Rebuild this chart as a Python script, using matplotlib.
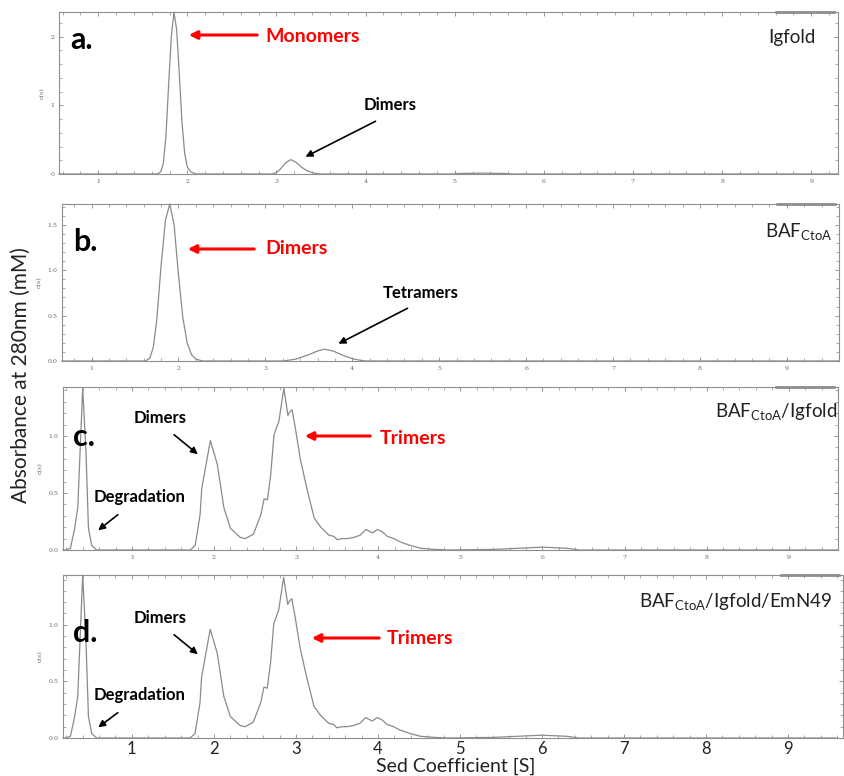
import matplotlib
matplotlib.use("Agg")
import matplotlib.pyplot as plt
from matplotlib.patches import FancyArrowPatch
from matplotlib.ticker import MultipleLocator

W, H = 845, 776

a_s = [0.56, 1.66, 1.70, 1.73, 1.76, 1.79, 1.82, 1.85, 1.88, 1.91, 1.94, 1.97, 2.00, 2.04, 2.10, 2.95,
       3.00, 3.05, 3.10, 3.16, 3.22, 3.28, 3.34, 3.40, 3.48, 4.95, 5.05, 5.30, 5.55, 5.65, 9.30]
a_c = [0.0, 0.0, 0.03, 0.15, 0.55, 1.30, 2.00, 2.36, 2.10, 1.45, 0.75, 0.30, 0.10, 0.03, 0.0, 0.0,
       0.02, 0.08, 0.16, 0.21, 0.17, 0.10, 0.05, 0.02, 0.0, 0.0, 0.008, 0.012, 0.008, 0.0, 0.0]

b_s = [0.66, 1.62, 1.67, 1.71, 1.75, 1.80, 1.85, 1.90, 1.95, 2.00, 2.05, 2.10, 2.15, 2.20, 2.28, 3.20,
       3.35, 3.50, 3.60, 3.68, 3.78, 3.90, 4.02, 4.15, 9.60]
b_c = [0.0, 0.0, 0.03, 0.15, 0.45, 1.05, 1.55, 1.73, 1.50, 0.95, 0.48, 0.20, 0.07, 0.02, 0.0, 0.0,
       0.02, 0.07, 0.11, 0.13, 0.11, 0.06, 0.02, 0.0, 0.0]

c_s = [0.16, 0.19, 0.25, 0.30, 0.34, 0.40, 0.44, 0.47, 0.51, 0.57, 1.71, 1.77, 1.83, 1.85, 1.955, 2.04,
       2.12, 2.20, 2.32, 2.38, 2.48, 2.57, 2.61, 2.65, 2.69, 2.73, 2.79, 2.85, 2.90, 2.92, 2.95, 2.99,
       3.05, 3.13, 3.22, 3.30, 3.40, 3.46, 3.50, 3.56, 3.62, 3.70, 3.78, 3.85, 3.93, 3.99, 4.05, 4.11,
       4.19, 4.27, 4.39, 4.52, 4.70, 4.85, 5.40, 5.70, 6.00, 6.30, 6.45, 9.60]
c_c = [0.0, 0.0, 0.015, 0.18, 0.37, 1.42, 0.86, 0.19, 0.04, 0.0, 0.0, 0.04, 0.31, 0.54, 0.96, 0.75,
       0.37, 0.19, 0.11, 0.10, 0.14, 0.31, 0.45, 0.44, 0.66, 1.01, 1.13, 1.42, 1.18, 1.21, 1.23, 1.07,
       0.80, 0.54, 0.28, 0.20, 0.13, 0.12, 0.09, 0.10, 0.10, 0.11, 0.13, 0.18, 0.15, 0.18, 0.16, 0.12,
       0.10, 0.07, 0.04, 0.015, 0.005, 0.0, 0.005, 0.015, 0.025, 0.015, 0.0, 0.0]

d_s = c_s
d_c = [0.0, 0.0, 0.015, 0.18, 0.37, 1.44, 0.86, 0.19, 0.04, 0.0, 0.0, 0.04, 0.31, 0.54, 0.96, 0.75,
       0.37, 0.19, 0.11, 0.10, 0.14, 0.31, 0.45, 0.44, 0.66, 1.01, 1.13, 1.42, 1.18, 1.21, 1.23, 1.07,
       0.80, 0.54, 0.28, 0.20, 0.13, 0.12, 0.09, 0.10, 0.10, 0.11, 0.13, 0.18, 0.15, 0.18, 0.16, 0.12,
       0.10, 0.07, 0.04, 0.015, 0.005, 0.0, 0.005, 0.015, 0.025, 0.015, 0.0, 0.0]

names = ["Igfold", r"BAF$_{\mathrm{CtoA}}$", r"BAF$_{\mathrm{CtoA}}$/Igfold",
         r"BAF$_{\mathrm{CtoA}}$/Igfold/EmN49"]
letters = ["a.", "b.", "c.", "d."]

# layout in picture pixels (left, right, top, bottom)
boxes = [(59, 838, 12, 174), (62, 839, 204, 361), (63, 838, 387, 550), (63, 843, 575, 738)]
xlims = [(0.56, 9.30), (0.66, 9.60), (0.16, 9.60), (0.16, 9.67)]
ylims = [(0, 2.36), (0, 1.73), (0, 1.43), (0, 1.44)]
ysteps = [(1, 0.2), (0.5, 0.1), (0.5, 0.1), (0.5, 0.1)]
name_pos = [(816, 37), (832, 232), (837, 412), (832, 602)]
letter_pos = [(70, 40), (73, 242), (73, 437), (73, 633)]

plt.rcParams["mathtext.fontset"] = "custom"
plt.rcParams["mathtext.rm"] = "Lato"
plt.rcParams["font.family"] = "Lato"

fig = plt.figure(figsize=(W / 100, H / 100), dpi=100)


def fx(x):
    return x / W


def fy(y):
    return 1 - y / H


series = [(a_s, a_c), (b_s, b_c), (c_s, c_c), (d_s, d_c)]
for i, (s, c) in enumerate(series):
    l, r, t, b = boxes[i]
    ax = fig.add_axes([fx(l), fy(b), (r - l) / W, (b - t) / H])
    ax.plot(s, c, color="#8a8a8a", lw=0.9, clip_on=False)
    ax.set_xlim(*xlims[i])
    ax.set_ylim(*ylims[i])
    ax.xaxis.set_major_locator(MultipleLocator(1))
    ax.xaxis.set_minor_locator(MultipleLocator(0.2))
    ax.yaxis.set_major_locator(MultipleLocator(ysteps[i][0]))
    ax.yaxis.set_minor_locator(MultipleLocator(ysteps[i][1]))
    ax.tick_params(which="both", direction="in", top=True, right=True, color="#888888")
    ax.tick_params(which="major", length=3, width=0.6)
    ax.tick_params(which="minor", length=2, width=0.5)
    for sp in ax.spines.values():
        sp.set_color("#8f8f8f")
        sp.set_linewidth(0.8)
    if i < 3:
        ax.tick_params(labelsize=4.5, labelcolor="#666666")
        for lab in ax.get_xticklabels() + ax.get_yticklabels():
            lab.set_family("DejaVu Serif")
    else:
        ax.tick_params(axis="x", labelsize=12, labelcolor="#222222", pad=2)
        ax.tick_params(axis="y", labelsize=4.5, labelcolor="#666666")
        for lab in ax.get_yticklabels():
            lab.set_family("DejaVu Serif")
    ax.set_ylabel("c(s)", fontsize=4.5, color="#666666", family="DejaVu Serif", labelpad=4)
    # dark frame fragment in the top right corner
    ax.plot([0.92, 0.995], [1.0, 1.0], transform=ax.transAxes, color="#777777", lw=1.8, clip_on=False)
    fig.text(fx(name_pos[i][0]), fy(name_pos[i][1]), names[i], fontsize=13.5, color="#222222",
             ha="right", va="center")
    fig.text(fx(letter_pos[i][0]), fy(letter_pos[i][1]), letters[i], fontsize=22,
             fontweight="bold", color="black", ha="left", va="center")


def note(text, tx, ty, ax0, ay0, ax1, ay1, color, size):
    fig.text(fx(tx), fy(ty), text, fontsize=size, fontweight="bold", color=color, ha="left", va="center")
    fig.add_artist(FancyArrowPatch(
        (fx(ax0), fy(ay0)), (fx(ax1), fy(ay1)), transform=fig.transFigure,
        arrowstyle="-|>", mutation_scale=10 if color == "black" else 12,
        color=color, lw=1.2 if color == "black" else 2.2))


red = "#ff0000"
note("Monomers", 265, 36, 260, 35, 186, 35, red, 14)
note("Dimers", 364, 105, 378, 120, 303, 158, "black", 12)
note("Dimers", 265, 249, 257, 249, 185, 249, red, 14)
note("Tetramers", 383, 293, 410, 307, 336, 345, "black", 12)
note("Dimers", 134, 418, 172, 433, 200, 456, "black", 12)
note("Degradation", 94, 497, 120, 513, 96, 532, "black", 12)
note("Trimers", 380, 438, 373, 436, 302, 436, red, 14)
note("Dimers", 134, 618, 172, 633, 200, 656, "black", 12)
note("Degradation", 94, 695, 120, 711, 96, 729, "black", 12)
note("Trimers", 387, 638, 382, 638, 309, 638, red, 14)

fig.text(fx(21), fy(375), "Absorbance at 280nm (mM)", rotation=90, fontsize=15,
         color="#222222", ha="center", va="center")
fig.text(fx(456), fy(766), "Sed Coefficient [S]", fontsize=14, color="#222222", ha="center", va="center")

fig.savefig("out.png", dpi=100)
